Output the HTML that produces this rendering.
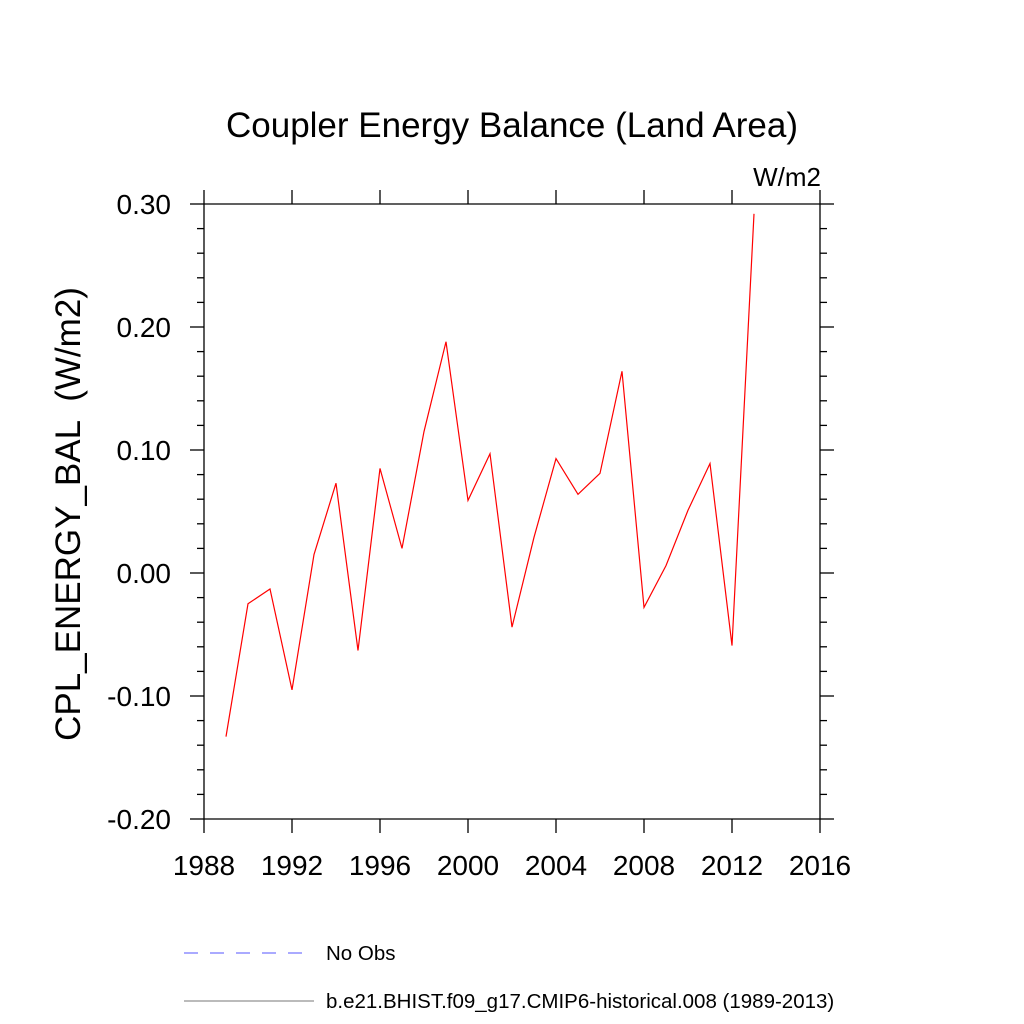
<!DOCTYPE html>
<html><head><meta charset="utf-8"><style>body{margin:0;background:#fff}svg{display:block}text{font-family:"Liberation Sans",sans-serif}</style></head>
<body>
<svg id="chart" width="1024" height="1024" xmlns="http://www.w3.org/2000/svg">
<rect width="1024" height="1024" fill="#fff"/>
<text x="512" y="137" font-size="35" text-anchor="middle">Coupler Energy Balance (Land Area)</text>
<text x="821" y="186" font-size="26" text-anchor="end">W/m2</text>
<text transform="translate(80,514) rotate(-90)" font-size="35" text-anchor="middle" style="white-space:pre">CPL_ENERGY_BAL  (W/m2)</text>
<g id="axes"></g>
<polyline id="series" fill="none" stroke="#ff0000" stroke-width="1.2"/>
<g>
<line x1="184" y1="953" x2="314" y2="953" stroke="#5555ff" stroke-width="1" stroke-dasharray="14,12"/>
<text x="326" y="960" font-size="20.5">No Obs</text>
<line x1="184" y1="1001" x2="314" y2="1001" stroke="#777" stroke-width="1"/>
<text x="326" y="1008" font-size="20.5">b.e21.BHIST.f09_g17.CMIP6-historical.008 (1989-2013)</text>
</g>
</svg>
<script>
const years=[1989,1990,1991,1992,1993,1994,1995,1996,1997,1998,1999,2000,2001,2002,2003,2004,2005,2006,2007,2008,2009,2010,2011,2012,2013];
const values=[-0.133,-0.025,-0.013,-0.095,0.015,0.073,-0.063,0.085,0.020,0.115,0.188,0.059,0.097,-0.044,0.029,0.093,0.064,0.081,0.164,-0.028,0.006,0.051,0.089,-0.059,0.292];
const xTicks=[1988,1992,1996,2000,2004,2008,2012,2016];
const yTicks=[-0.2,-0.1,0,0.1,0.2,0.3];
const yTickLabels=["-0.20","-0.10","0.00","0.10","0.20","0.30"];
const L=204,R=820,T=204,B=819;
const xs=v=>L+(v-1988)/28*(R-L);
const ys=v=>B-(v+0.2)/0.5*(B-T);
const ns="http://www.w3.org/2000/svg";
const g=document.getElementById('axes');
function ln(x1,y1,x2,y2,name){const e=document.createElementNS(ns,'line');e.setAttribute('x1',x1);e.setAttribute('y1',y1);e.setAttribute('x2',x2);e.setAttribute('y2',y2);e.setAttribute('stroke','#000');e.setAttribute('stroke-width','1.3');


g.appendChild(e);}
function tx(x,y,s,anchor,name){const e=document.createElementNS(ns,'text');e.setAttribute('x',x);e.setAttribute('y',y);e.setAttribute('font-size','28');e.setAttribute('text-anchor',anchor);e.textContent=s;


g.appendChild(e);}
ln(L,T,R,T,'frame-top');ln(L,B,R,B,'frame-bottom');ln(L,T,L,B,'frame-left');ln(R,T,R,B,'frame-right');
xTicks.forEach(v=>{const x=xs(v);ln(x,B,x,B+14,'x-tick');ln(x,T,x,T-14,'x-tick-top');tx(x,875,String(v),'middle','x-tick-label');});
yTicks.forEach((v,i)=>{const y=ys(v);ln(L,y,L-14,y,'y-tick');ln(R,y,R+14,y,'y-tick-right');tx(L-33,y+10,yTickLabels[i],'end','y-tick-label');});
for(let k=0;k<=25;k++){const v=-0.2+k*0.02;if(k%5===0)continue;const y=ys(v);ln(L,y,L-7,y,'y-minor-tick');ln(R,y,R+7,y,'y-minor-tick-right');}
document.getElementById('series').setAttribute('points',years.map((yr,i)=>xs(yr)+','+ys(values[i])).join(' '));
</script>
</body></html>
